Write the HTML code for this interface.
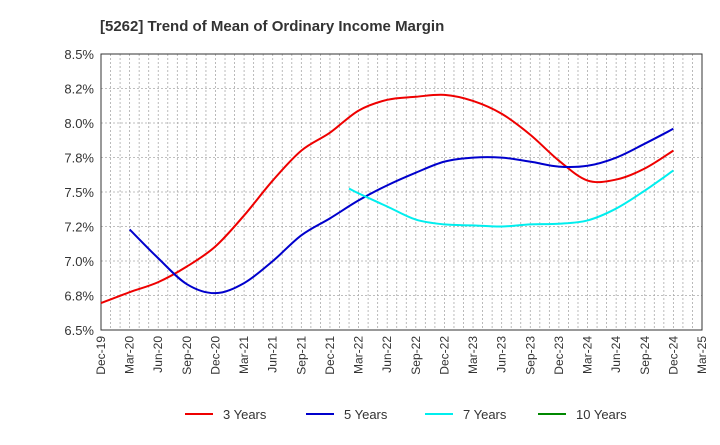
<!DOCTYPE html>
<html><head><meta charset="utf-8"><style>
body{margin:0;background:#fff;font-family:"Liberation Sans",Arial,sans-serif}
</style></head><body>
<svg width="720" height="440" xmlns="http://www.w3.org/2000/svg" font-family="Liberation Sans, Arial, sans-serif">
<text x="100" y="31" font-size="15" font-weight="bold" fill="#333">[5262]  Trend of Mean of Ordinary Income Margin</text>
<g id="grid"></g><g id="axes"></g><g id="series"></g><g id="legend"></g>
</svg>
<script>
const yTicks=[6.5,6.75,7.0,7.25,7.5,7.75,8.0,8.25,8.5];
const yTickLabels=["6.5%","6.8%","7.0%","7.2%","7.5%","7.8%","8.0%","8.2%","8.5%"];
const xLabels=["Dec-19","Mar-20","Jun-20","Sep-20","Dec-20","Mar-21","Jun-21","Sep-21","Dec-21","Mar-22","Jun-22","Sep-22","Dec-22","Mar-23","Jun-23","Sep-23","Dec-23","Mar-24","Jun-24","Sep-24","Dec-24","Mar-25"];
const s3months=[0,3,6,9,12,15,18,21,24,27,30,33,36,39,42,45,48,51,54,57,60];
const s3=[6.695,6.774,6.847,6.96,7.106,7.33,7.583,7.80,7.93,8.09,8.168,8.19,8.204,8.16,8.067,7.915,7.727,7.583,7.59,7.67,7.80];
const s5months=[3,6,9,12,15,18,21,24,27,30,33,36,39,42,45,48,51,54,57,60];
const s5=[7.229,7.02,6.832,6.767,6.84,6.999,7.186,7.309,7.439,7.548,7.64,7.72,7.749,7.749,7.72,7.684,7.69,7.749,7.85,7.958];
const s7months=[26,27,30,33,36,39,42,45,48,51,54,57,60];
const s7=[7.525,7.49,7.395,7.30,7.265,7.258,7.25,7.265,7.27,7.294,7.38,7.51,7.656];
const L=101,R=702,T=54,B=330;
const NS="http://www.w3.org/2000/svg";
const xS=m=>L+m*(R-L)/63;
const yS=v=>B-(v-6.5)/2*(B-T);
function mk(t,a,p){const e=document.createElementNS(NS,t);for(const k in a)e.setAttribute(k,a[k]);p.appendChild(e);return e;}
const grid=document.getElementById('grid'),axes=document.getElementById('axes'),ser=document.getElementById('series'),leg=document.getElementById('legend');
for(let m=1;m<63;m++){const l=mk('line',{x1:xS(m),x2:xS(m),y1:T,y2:B,stroke:'#aaa','stroke-dasharray':'2,2','stroke-width':0.8},grid);

}
yTicks.forEach((v,i)=>{const l=mk('line',{x1:L,x2:R,y1:yS(v),y2:yS(v),stroke:'#aaa','stroke-dasharray':'2,2','stroke-width':0.8},grid);


const t=mk('text',{x:L-7,y:yS(v)+5,'text-anchor':'end','font-size':13,fill:'#333'},axes);t.textContent=yTickLabels[i];

});
const fr=mk('rect',{x:L,y:T,width:R-L,height:B-T,fill:'none',stroke:'#333','stroke-width':1},axes);


xLabels.forEach((s,i)=>{const x=xS(i*3);const t=mk('text',{x:0,y:0,transform:`translate(${x+4},${B+6}) rotate(-90)`,'text-anchor':'end','font-size':12,fill:'#333'},axes);t.textContent=s;

});
function path(ms,vs){const p=ms.map((m,i)=>[xS(m),yS(vs[i])]);let d=`M${p[0][0]},${p[0][1]}`;
for(let i=0;i<p.length-1;i++){const p0=p[i-1]||p[i],p1=p[i],p2=p[i+1],p3=p[i+2]||p2;
d+=` C${p1[0]+(p2[0]-p0[0])/6},${p1[1]+(p2[1]-p0[1])/6} ${p2[0]-(p3[0]-p1[0])/6},${p2[1]-(p3[1]-p1[1])/6} ${p2[0]},${p2[1]}`;}return d;}
[[s3months,s3,'#e00','series-3-years'],[s5months,s5,'#00c','series-5-years'],[s7months,s7,'#0ee','series-7-years']].forEach(([m,v,c,n])=>{
const e=mk('path',{d:path(m,v),fill:'none',stroke:c,'stroke-width':2},ser);

});
[['3 Years','#e00',185],['5 Years','#00c',306],['7 Years','#0ee',425],['10 Years','#080',538]].forEach(([s,c,x])=>{
const l=mk('line',{x1:x,x2:x+28,y1:414,y2:414,stroke:c,'stroke-width':2},leg);


const t=mk('text',{x:x+38,y:419,'font-size':13,fill:'#333'},leg);t.textContent=s;

});
</script>
</body></html>
